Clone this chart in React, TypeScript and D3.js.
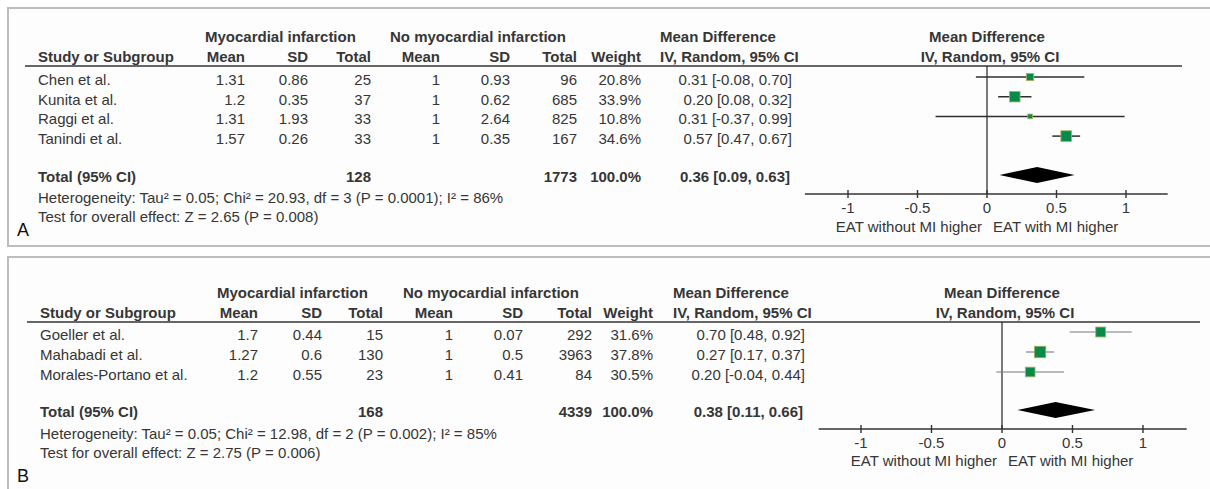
import React from "react";
import * as d3 from "d3";

// ---------- Panel A data ----------
const studiesA = ["Chen et al.", "Kunita et al.", "Raggi et al.", "Tanindi et al."];
const miMeanA = [1.31, 1.2, 1.31, 1.57];
const miSdA = [0.86, 0.35, 1.93, 0.26];
const miTotalA = [25, 37, 33, 33];
const noMeanA = [1, 1, 1, 1];
const noSdA = [0.93, 0.62, 2.64, 0.35];
const noTotalA = [96, 685, 825, 167];
const weightA = [20.8, 33.9, 10.8, 34.6];
const mdA = [0.31, 0.2, 0.31, 0.57];
const loA = [-0.08, 0.08, -0.37, 0.47];
const hiA = [0.7, 0.32, 0.99, 0.67];
const totalA = { mi: 128, no: 1773, weight: 100.0, md: 0.36, lo: 0.09, hi: 0.63 };
const hetA = "Heterogeneity: Tau\u00b2 = 0.05; Chi\u00b2 = 20.93, df = 3 (P = 0.0001); I\u00b2 = 86%";
const testA = "Test for overall effect: Z = 2.65 (P = 0.008)";

// ---------- Panel B data ----------
const studiesB = ["Goeller et al.", "Mahabadi et al.", "Morales-Portano et al."];
const miMeanB = [1.7, 1.27, 1.2];
const miSdB = [0.44, 0.6, 0.55];
const miTotalB = [15, 130, 23];
const noMeanB = [1, 1, 1];
const noSdB = [0.07, 0.5, 0.41];
const noTotalB = [292, 3963, 84];
const weightB = [31.6, 37.8, 30.5];
const mdB = [0.7, 0.27, 0.2];
const loB = [0.48, 0.17, -0.04];
const hiB = [0.92, 0.37, 0.44];
const totalB = { mi: 168, no: 4339, weight: 100.0, md: 0.38, lo: 0.11, hi: 0.66 };
const hetB = "Heterogeneity: Tau\u00b2 = 0.05; Chi\u00b2 = 12.98, df = 2 (P = 0.002); I\u00b2 = 85%";
const testB = "Test for overall effect: Z = 2.75 (P = 0.006)";

const tickValues = [-1, -0.5, 0, 0.5, 1];
const tickLabels = ["-1", "-0.5", "0", "0.5", "1"];
const leftLabel = "EAT without MI higher";
const rightLabel = "EAT with MI higher";

const FONT = "'Liberation Sans', Arial, Helvetica, sans-serif";
const TXT = "#363636";
const GREEN = "#0a8a4a";

type PanelData = {
  studies: string[]; miMean: number[]; miSd: number[]; miTotal: number[];
  noMean: number[]; noSd: number[]; noTotal: number[]; weight: number[];
  md: number[]; lo: number[]; hi: number[];
  total: { mi: number; no: number; weight: number; md: number; lo: number; hi: number };
  het: string; test: string; letter: string;
};

type Layout = {
  boxTop: number; hdr1: number; hdr2: number; lineY: number; lineX0: number; lineX1: number;
  row0: number; rowStep: number; totalY: number; hetY: number; testY: number; letterY: number;
  xStudy: number; xMiLabel: number; xNoLabel: number;
  cols: number[]; xCI: number; xCIhdr: number; xMDhdr: number;
  zeroX: number; unit: number; axisY: number; axisDom: [number, number];
  tickY: number; labY: number; ciColor: string; ciWidth: number;
};

const sizeScale = d3.scaleLinear().domain([0, 37.8]).range([2, 11.5]);

function Panel({ d, L }: { d: PanelData; L: Layout }) {
  const x = d3.scaleLinear().domain([-1, 1]).range([L.zeroX - L.unit, L.zeroX + L.unit]);
  const rowY = (i: number) => L.row0 + i * L.rowStep;
  const [c0, c1, c2, c3, c4, c5, c6] = L.cols;
  const fmt2 = (v: number) => v.toFixed(2);
  const ci = (m: number, l: number, h: number) => `${fmt2(m)} [${fmt2(l)}, ${fmt2(h)}]`;
  const bold = { fontWeight: 700 } as const;
  const dTop = L.totalY - 7;
  const diamond = [
    [x(d.total.lo), dTop], [x(d.total.md), dTop - 8], [x(d.total.hi), dTop], [x(d.total.md), dTop + 8],
  ];
  return (
    <g fontFamily={FONT} fontSize={15} fill={TXT}>
      <rect x={8} y={L.boxTop} width={1230} height={238} fill="#fdfdfd" stroke="#bdbdbd" strokeWidth={2} />
      {/* headers */}
      <text x={L.xMiLabel} y={L.hdr1} style={bold}>Myocardial infarction</text>
      <text x={L.xNoLabel} y={L.hdr1} style={bold}>No myocardial infarction</text>
      <text x={L.xMDhdr} y={L.hdr1} style={bold}>Mean Difference</text>
      <text x={L.zeroX} y={L.hdr1} style={bold} textAnchor="middle">Mean Difference</text>
      <text x={L.xStudy} y={L.hdr2} style={bold}>Study or Subgroup</text>
      {["Mean", "SD", "Total", "Mean", "SD", "Total", "Weight"].map((h, i) => (
        <text key={"h" + i} x={L.cols[i]} y={L.hdr2} style={bold} textAnchor="end">{h}</text>
      ))}
      <text x={L.xCIhdr} y={L.hdr2} style={bold}>IV, Random, 95% CI</text>
      <text x={L.zeroX + 3} y={L.hdr2} style={bold} textAnchor="middle">IV, Random, 95% CI</text>
      <line x1={L.lineX0} x2={L.lineX1} y1={L.lineY} y2={L.lineY} stroke="#333" strokeWidth={1.6} />
      {/* rows */}
      {d.studies.map((s, i) => (
        <g key={s}>
          <text x={L.xStudy} y={rowY(i)}>{s}</text>
          <text x={c0} y={rowY(i)} textAnchor="end">{String(d.miMean[i])}</text>
          <text x={c1} y={rowY(i)} textAnchor="end">{String(d.miSd[i])}</text>
          <text x={c2} y={rowY(i)} textAnchor="end">{String(d.miTotal[i])}</text>
          <text x={c3} y={rowY(i)} textAnchor="end">{String(d.noMean[i])}</text>
          <text x={c4} y={rowY(i)} textAnchor="end">{String(d.noSd[i])}</text>
          <text x={c5} y={rowY(i)} textAnchor="end">{String(d.noTotal[i])}</text>
          <text x={c6} y={rowY(i)} textAnchor="end">{d.weight[i].toFixed(1) + "%"}</text>
          <text x={L.xCI} y={rowY(i)} textAnchor="end">{ci(d.md[i], d.lo[i], d.hi[i])}</text>
        </g>
      ))}
      {/* total */}
      <text x={L.xStudy} y={L.totalY} style={bold}>Total (95% CI)</text>
      <text x={c2} y={L.totalY} style={bold} textAnchor="end">{String(d.total.mi)}</text>
      <text x={c5} y={L.totalY} style={bold} textAnchor="end">{String(d.total.no)}</text>
      <text x={c6} y={L.totalY} style={bold} textAnchor="end">{d.total.weight.toFixed(1) + "%"}</text>
      <text x={L.xCI - 2} y={L.totalY} style={bold} textAnchor="end">{ci(d.total.md, d.total.lo, d.total.hi)}</text>
      <text x={L.xStudy} y={L.hetY}>{d.het}</text>
      <text x={L.xStudy} y={L.testY}>{d.test}</text>
      <text x={17} y={L.letterY} fontSize={18} fill="#111">{d.letter}</text>
      {/* plot */}
      <line x1={x(0)} x2={x(0)} y1={L.lineY} y2={L.axisY} stroke="#333" strokeWidth={1.3} />
      {d.studies.map((s, i) => {
        const sz = sizeScale(d.weight[i]);
        const cy = rowY(i) - 8;
        return (
          <g key={"p" + s}>
            <line x1={x(d.lo[i])} x2={x(d.hi[i])} y1={cy} y2={cy} stroke={L.ciColor} strokeWidth={L.ciWidth} />
            <rect x={x(d.md[i]) - sz / 2} y={cy - sz / 2} width={sz} height={sz} fill={GREEN} stroke="#a9b45c" strokeWidth={0.8} />
          </g>
        );
      })}
      <polygon points={diamond.map((p) => p.join(",")).join(" ")} fill="#000" />
      <line x1={x(L.axisDom[0])} x2={x(L.axisDom[1])} y1={L.axisY} y2={L.axisY} stroke="#333" strokeWidth={1.4} />
      {tickValues.map((t, i) => (
        <g key={"t" + i}>
          <line x1={x(t)} x2={x(t)} y1={L.axisY - 4} y2={L.axisY + 4} stroke="#333" strokeWidth={1.4} />
          <text x={x(t)} y={L.tickY} textAnchor="middle">{tickLabels[i]}</text>
        </g>
      ))}
      <text x={x(0) - 5} y={L.labY} textAnchor="end">{leftLabel}</text>
      <text x={x(0) + 6} y={L.labY}>{rightLabel}</text>
    </g>
  );
}

const dataA: PanelData = {
  studies: studiesA, miMean: miMeanA, miSd: miSdA, miTotal: miTotalA, noMean: noMeanA, noSd: noSdA,
  noTotal: noTotalA, weight: weightA, md: mdA, lo: loA, hi: hiA, total: totalA, het: hetA, test: testA, letter: "A",
};
const dataB: PanelData = {
  studies: studiesB, miMean: miMeanB, miSd: miSdB, miTotal: miTotalB, noMean: noMeanB, noSd: noSdB,
  noTotal: noTotalB, weight: weightB, md: mdB, lo: loB, hi: hiB, total: totalB, het: hetB, test: testB, letter: "B",
};

const layoutA: Layout = {
  boxTop: 8, hdr1: 42, hdr2: 62, lineY: 66, lineX0: 25, lineX1: 1182,
  row0: 85, rowStep: 19.7, totalY: 182, hetY: 203, testY: 222, letterY: 236,
  xStudy: 38, xMiLabel: 205, xNoLabel: 390,
  cols: [245, 308, 371, 440, 510, 577, 641], xCI: 792, xCIhdr: 660, xMDhdr: 660,
  zeroX: 987, unit: 139, axisY: 194, axisDom: [-1.31, 1.3], tickY: 213, labY: 232,
  ciColor: "#2e2e2e", ciWidth: 1.5,
};
const layoutB: Layout = {
  boxTop: 257, hdr1: 298, hdr2: 318, lineY: 322, lineX0: 27, lineX1: 1200,
  row0: 340, rowStep: 20, totalY: 417, hetY: 439, testY: 458, letterY: 482,
  xStudy: 40, xMiLabel: 217, xNoLabel: 403,
  cols: [258, 322, 383, 453, 523, 592, 653], xCI: 805, xCIhdr: 673, xMDhdr: 673,
  zeroX: 1002, unit: 141, axisY: 429, axisDom: [-1.3, 1.31], tickY: 448, labY: 466,
  ciColor: "#7a7a7a", ciWidth: 1.1,
};

export default function App() {
  return (
    <svg width={1210} height={489} style={{ position: "absolute", left: 0, top: 0, background: "#fff" }}>
      <Panel d={dataA} L={layoutA} />
      <Panel d={dataB} L={layoutB} />
    </svg>
  );
}
